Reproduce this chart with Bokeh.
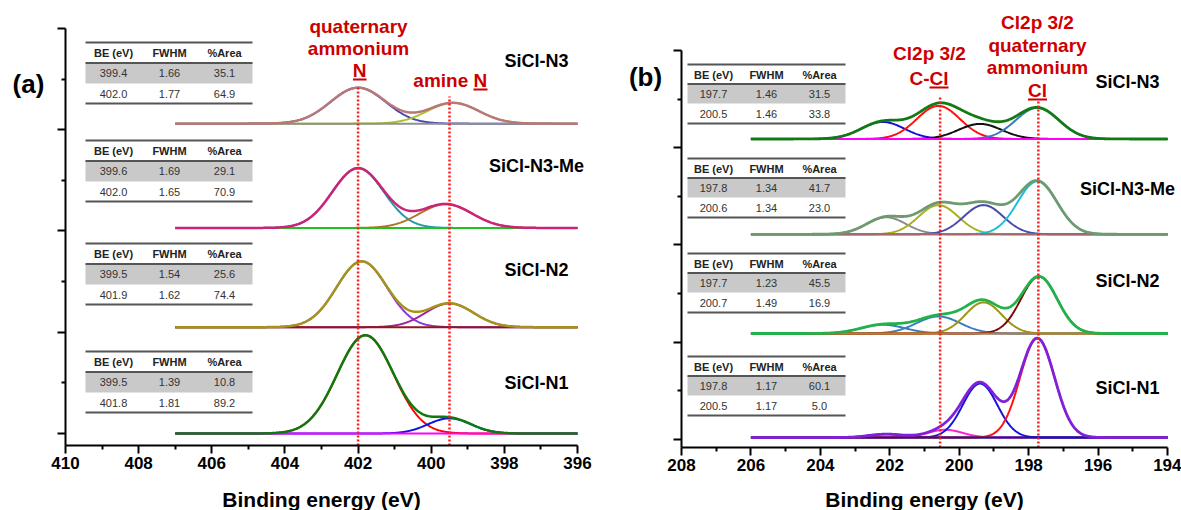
import numpy as np
from bokeh.plotting import figure
from bokeh.models import Range1d, FixedTicker, Label
from bokeh.layouts import row
from bokeh.embed import file_html
from bokeh.resources import INLINE
from bokeh.core.properties import value

FONT = "Liberation Sans"
ANN = "#CC0000"

# ---------------- Panel (a): N 1s ----------------
a_samples = ["SiCl-N1", "SiCl-N2", "SiCl-N3-Me", "SiCl-N3"]
a_offset = [0.0, 1.05, 2.03, 3.06]
a_quat_be = [401.8, 401.9, 402.0, 402.0]
a_quat_fwhm = [1.81, 1.62, 1.65, 1.77]
a_quat_height = [0.97, 0.65, 0.59, 0.355]
a_amine_be = [399.5, 399.5, 399.6, 399.4]
a_amine_fwhm = [1.39, 1.54, 1.69, 1.66]
a_amine_height = [0.15, 0.235, 0.235, 0.205]
a_table_be = [["399.5", "401.8"], ["399.5", "401.9"], ["399.6", "402.0"], ["399.4", "402.0"]]
a_table_fwhm = [["1.39", "1.81"], ["1.54", "1.62"], ["1.69", "1.65"], ["1.66", "1.77"]]
a_table_area = [["10.8", "89.2"], ["25.6", "74.4"], ["29.1", "70.9"], ["35.1", "64.9"]]
a_marker_be = [402.0, 399.5]
a_xticks = [396, 398, 400, 402, 404, 406, 408, 410]
a_xminor = [397, 399, 401, 403, 405, 407, 409]

# ---------------- Panel (b): Cl 2p ----------------
b_samples = ["SiCl-N1", "SiCl-N2", "SiCl-N3-Me", "SiCl-N3"]
b_offset = [0.02, 1.09, 2.11, 3.09]
b_q32_be = [197.75, 197.7, 197.75, 197.75]
b_q32_fwhm = [1.17, 1.23, 1.34, 1.46]
b_q32_height = [1.02, 0.585, 0.545, 0.32]
b_q12_be = [199.4, 199.3, 199.3, 199.4]
b_q12_height = [0.555, 0.32, 0.30, 0.155]
b_c32_be = [200.4, 200.6, 200.6, 200.6]
b_c32_fwhm = [1.17, 1.49, 1.34, 1.46]
b_c32_height = [0.08, 0.175, 0.30, 0.34]
b_c12_be = [202.1, 202.2, 202.1, 202.2]
b_c12_height = [0.035, 0.09, 0.175, 0.175]
b_table_be = [["197.8", "200.5"], ["197.7", "200.7"], ["197.8", "200.6"], ["197.7", "200.5"]]
b_table_fwhm = [["1.17", "1.17"], ["1.23", "1.49"], ["1.34", "1.34"], ["1.46", "1.46"]]
b_table_area = [["60.1", "5.0"], ["45.5", "16.9"], ["41.7", "23.0"], ["31.5", "33.8"]]
b_marker_be = [200.55, 197.72]
b_xticks = [194, 196, 198, 200, 202, 204, 206, 208]
b_xminor = [195, 197, 199, 201, 203, 205, 207]

table_header = ["BE (eV)", "FWHM", "%Area"]
x_title = "Binding energy (eV)"

# styles
a_env_col = ["#0E7A0E", "#A39519", "#CC2277", "#B87878"]
a_quat_col = ["#FF0000", "#8E35D6", "#1E9AA8", "#4848B0"]
a_amine_col = ["#1010E0", "#A020A0", "#B0742A", "#A8C428"]
a_base_col = ["#FF00FF", "#8B1A1A", "#22C022", "#909090"]

b_env_col = ["#8020D8", "#22B24A", "#6E9A70", "#127A12"]
b_q32_col = ["#FF1010", "#7A0A0A", "#18BEDC", "#3A78B8"]
b_q12_col = ["#1414D8", "#9C9414", "#4A4AA8", "#111111"]
b_c32_col = ["#FF20D0", "#3A7EC0", "#A8B020", "#FF1010"]
b_c12_col = ["#1A1A8C", "#3A7EC0", "#8C8C8C", "#1414D0"]
b_base_col = ["#1A1A8C", "#C8782A", "#A06A6A", "#FF00FF"]


def gauss(x, c, fwhm, h):
    return h * np.exp(-4.0 * np.log(2.0) * (x - c) ** 2 / fwhm ** 2)


def make_fig(width, height, xr, yr, xb_, yb_, xticks, xminor):
    p = figure(width=width, height=height, output_backend="svg", toolbar_location=None,
               x_range=Range1d(*xr), y_range=Range1d(*yr), min_border=0)
    p.title.visible = False
    p.outline_line_color = None
    p.grid.visible = False
    p.background_fill_color = "white"
    p.border_fill_color = "white"
    p.xaxis.ticker = FixedTicker(ticks=xticks, minor_ticks=xminor)
    p.yaxis.ticker = FixedTicker(ticks=[0, 1, 2, 3, 4], minor_ticks=[0.5, 1.5, 2.5, 3.5])
    p.xaxis.fixed_location = yb_[0]
    p.xaxis.bounds = xb_
    p.yaxis.fixed_location = xb_[1]
    p.yaxis.bounds = yb_
    for ax in (p.xaxis[0], p.yaxis[0]):
        ax.axis_line_width = 2
        ax.axis_line_color = "black"
        ax.major_tick_line_width = 2
        ax.minor_tick_line_width = 2
        ax.major_tick_out = 8
        ax.major_tick_in = 0
        ax.minor_tick_out = 4
        ax.minor_tick_in = 0
    p.xaxis.major_label_text_font = FONT
    p.xaxis.major_label_text_font_style = "bold"
    p.xaxis.major_label_text_font_size = "17px"
    p.xaxis.major_label_text_color = "black"
    p.xaxis.major_label_standoff = 4
    p.yaxis.major_label_text_font_size = "0px"
    p.yaxis.major_label_text_color = None
    return p


def lab(p, x, y, text, size, color="black", align="center", style="bold"):
    p.add_layout(Label(x=x, y=y, text=text, text_font=FONT, text_font_size=f"{size}px",
                       text_font_style=style, text_color=color, text_align=align,
                       text_baseline="middle"))


def draw_table(p, xl, xr, cols, tops, off, be, fw, ar, ymap):
    for i, top in enumerate(tops):
        p.quad(left=[xl], right=[xr], bottom=[ymap(top + off["grey"])], top=[ymap(top + off["line"])],
               fill_color="#C9C9C9", line_color=None)
        ys = [ymap(top), ymap(top + off["line"]), ymap(top + off["bottom"])]
        p.segment(x0=[xl] * 3, x1=[xr] * 3, y0=ys, y1=ys, line_color="#555555", line_width=2)
        p.text(x=cols, y=[ymap(top + off["header"])] * 3, text=table_header,
               text_font=value(FONT), text_font_size=value("11px"), text_font_style="bold",
               text_align="center", text_baseline="middle", text_color="#222222")
        for r, yoff in enumerate([off["row1"], off["row2"]]):
            p.text(x=cols, y=[ymap(top + yoff)] * 3, text=[be[i][r], fw[i][r], ar[i][r]],
                   text_font=value(FONT), text_font_size=value("11px"),
                   text_align="center", text_baseline="middle", text_color="#333333")


# ---------- panel (a) ----------  (pixel helpers map page pixels -> data)
def xa(px):
    return 410.0 - (px - 65.0) / (512.0 / 14.0)


def ya(py):
    return (433.0 - py) / (417.0 / 4.118)


pa = make_fig(600, 510, (xa(0), xa(600)), (ya(510), ya(0)), (396, 410), (-0.118, 4.0),
              a_xticks, a_xminor)
xg = np.linspace(407, 396, 551)
for i in range(4):
    q = gauss(xg, a_quat_be[i], a_quat_fwhm[i], a_quat_height[i])
    am = gauss(xg, a_amine_be[i], a_amine_fwhm[i], a_amine_height[i])
    b0 = a_offset[i]
    pa.line(xg, b0 + q, line_color=a_quat_col[i], line_width=2)
    pa.line(xg, b0 + am, line_color=a_amine_col[i], line_width=2)
    pa.line(xg, b0 + 0 * xg, line_color=a_base_col[i], line_width=2)
    pa.line(xg, b0 + q + am, line_color=a_env_col[i], line_width=2.5)

pa.segment(x0=a_marker_be, x1=a_marker_be, y0=[-0.118, -0.118], y1=[ya(86), ya(96)],
           line_color="#FF1A1A", line_width=2.5, line_dash="2 2")

a_off = dict(header=10.5, line=20.5, grey=41, row1=30.5, row2=51, bottom=61)
draw_table(pa, xa(85), xa(252), [xa(113), xa(169), xa(224)], [351, 243, 140, 42], a_off,
           a_table_be, a_table_fwhm, a_table_area, ya)

for i, yy in enumerate([382, 269, 165, 60]):
    lab(pa, xa(536), ya(yy), a_samples[i], 18)

lab(pa, xa(358), ya(26), "quaternary", 19, ANN)
lab(pa, xa(358), ya(48), "ammonium", 19, ANN)
lab(pa, xa(359), ya(70), "N", 19, ANN)
pa.segment(x0=[xa(352.5), xa(473)], x1=[xa(366), xa(487)], y0=[ya(79), ya(89)], y1=[ya(79), ya(89)],
           line_color=ANN, line_width=2)
lab(pa, xa(473), ya(80), "amine ", 19, ANN, align="right")
lab(pa, xa(473), ya(80), "N", 19, ANN, align="left")
lab(pa, xa(28), ya(83), "(a)", 26)
lab(pa, xa(321), ya(499), x_title, 21)


# ---------- panel (b) ----------
def xb(px):
    return 208.0 - (px - 681.0) / (486.0 / 14.0)


def yb(py):
    return (439.0 - py) / (397.0 / 4.082)


pb = make_fig(581, 510, (xb(600), xb(1181)), (yb(510), yb(0)), (194, 208), (-0.082, 4.0),
              b_xticks, b_xminor)
xg2 = np.linspace(206, 194, 601)
for i in range(4):
    b0 = b_offset[i]
    comps = [
        (gauss(xg2, b_c12_be[i], b_c32_fwhm[i], b_c12_height[i]), b_c12_col[i]),
        (gauss(xg2, b_c32_be[i], b_c32_fwhm[i], b_c32_height[i]), b_c32_col[i]),
        (gauss(xg2, b_q12_be[i], b_q32_fwhm[i], b_q12_height[i]), b_q12_col[i]),
        (gauss(xg2, b_q32_be[i], b_q32_fwhm[i], b_q32_height[i]), b_q32_col[i]),
    ]
    tot = np.zeros_like(xg2)
    for yv, c in comps:
        pb.line(xg2, b0 + yv, line_color=c, line_width=2)
        tot = tot + yv
    pb.line(xg2, b0 + 0 * xg2, line_color=b_base_col[i], line_width=2)
    pb.line(xg2, b0 + tot, line_color=b_env_col[i], line_width=2.8)

pb.segment(x0=b_marker_be, x1=b_marker_be, y0=[-0.082, -0.082], y1=[yb(95), yb(101)],
           line_color="#FF1A1A", line_width=2.5, line_dash="2 2")

b_off = dict(header=10, line=19.5, grey=39, row1=29, row2=49, bottom=59)
draw_table(pb, xb(687), xb(845), [xb(713), xb(766), xb(819)], [356, 253, 158, 64], b_off,
           b_table_be, b_table_fwhm, b_table_area, yb)

for i, yy in enumerate([387, 280, 188, 81]):
    lab(pb, xb(1127), yb(yy), b_samples[i], 18)

lab(pb, xb(929), yb(53), "Cl2p 3/2", 19, ANN)
lab(pb, xb(929), yb(78), "C-", 19, ANN, align="right")
lab(pb, xb(929), yb(78), "Cl", 19, ANN, align="left")
lab(pb, xb(1037), yb(22), "Cl2p 3/2", 19, ANN)
lab(pb, xb(1037), yb(45), "quaternary", 19, ANN)
lab(pb, xb(1037), yb(67), "ammonium", 19, ANN)
lab(pb, xb(1037), yb(90), "Cl", 19, ANN)
pb.segment(x0=[xb(929), xb(1027.5)], x1=[xb(948), xb(1046.5)], y0=[yb(87), yb(99)], y1=[yb(87), yb(99)],
           line_color=ANN, line_width=2)
lab(pb, xb(645), yb(76), "(b)", 26)
lab(pb, xb(924), yb(499), x_title, 21)

layout = row(pa, pb)
open("out.html", "w").write(file_html(layout, INLINE))
